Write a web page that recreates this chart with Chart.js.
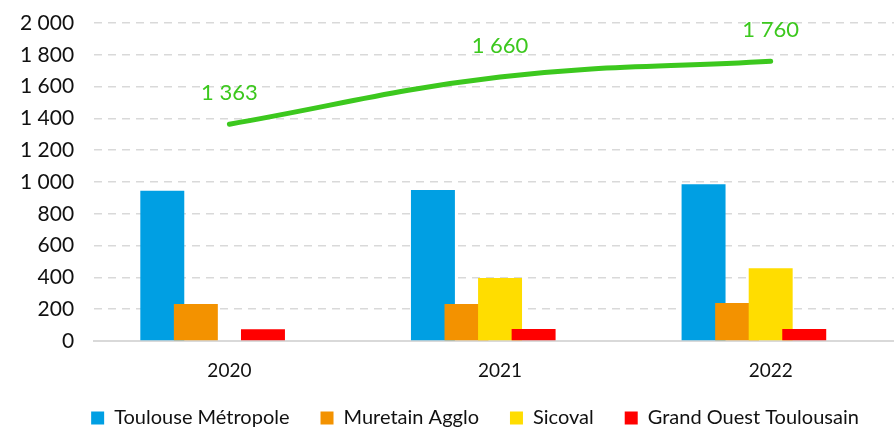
<!DOCTYPE html>
<html>
<head>
<meta charset="utf-8">
<script src="https://cdn.jsdelivr.net/npm/chart.js@4"></script>
<style>
  html, body { margin: 0; padding: 0; background: #fff; }
  #wrap { width: 894px; height: 429px; overflow: hidden; }
</style>
</head>
<body>
<div id="wrap"><canvas id="c" width="906" height="429"></canvas></div>
<script>
const years = ['2020', '2021', '2022'];
const toulouse = [945, 950, 986];
const muretain = [233, 233, 239];
const sicoval = [null, 396, 457];
const grandOuest = [74, 75, 76];
const total = [1363, 1660, 1760];
// empty 5th slot in each group (the original leaves room for it)
const emptySlot = [null, null, null];
const yTicks = [0, 200, 400, 600, 800, 1000, 1200, 1400, 1600, 1800, 2000];

// format 1 363 style
const fmt = v => String(v).replace(/\B(?=(\d{3})+(?!\d))/g, ' ');

// bars overlap a bit, later series must sit on top of earlier ones
const barLayering = {
  id: 'barLayering',
  beforeDatasetDraw(chart, args) {
    if (args.meta.type !== 'bar') return;
    if (args.index === 4) {
      for (let i = 0; i < 4; i++) chart.getDatasetMeta(i).controller.draw();
      return;
    }
    return false;
  }
};

// legend sits a bit right of centre in the original
const legendShift = {
  id: 'legendShift',
  afterLayout(chart) {
    chart.legend.left += 22;
    chart.legend.right += 22;
  }
};

const lineLabels = {
  id: 'lineLabels',
  afterDatasetsDraw(chart) {
    const ctx = chart.ctx;
    const meta = chart.getDatasetMeta(5);
    ctx.save();
    ctx.fillStyle = '#3CC81E';
    ctx.font = '22px Lato';
    ctx.textAlign = 'center';
    ctx.textBaseline = 'middle';
    meta.data.forEach((pt, i) => {
      ctx.fillText(fmt(total[i]), pt.x, pt.y - 31);
    });
    ctx.restore();
  }
};

new Chart(document.getElementById('c'), {
  type: 'bar',
  data: {
    labels: years,
    datasets: [
      { label: 'Toulouse Métropole', data: toulouse, backgroundColor: '#009FE3' },
      { label: 'Muretain Agglo', data: muretain, backgroundColor: '#F39200' },
      { label: 'Sicoval', data: sicoval, backgroundColor: '#FFDD00' },
      { label: 'Grand Ouest Toulousain', data: grandOuest, backgroundColor: '#FF0000' },
      { label: '', data: emptySlot, backgroundColor: 'transparent' },
      {
        type: 'line', label: 'Total', data: total,
        borderColor: '#3CC81E', borderWidth: 5, borderCapStyle: 'round',
        tension: 0.4, pointRadius: 0, fill: false, order: -1
      }
    ]
  },
  options: {
    responsive: false,
    animation: false,
    layout: { padding: { top: 0, right: 0, left: 0, bottom: -9 } },
    datasets: { bar: { categoryPercentage: 0.62, barPercentage: 1.31 } },
    scales: {
      x: {
        grid: { display: false, drawTicks: false },
        border: { color: '#D9D9D9', width: 2 },
        ticks: { color: '#111', font: { family: 'Lato', size: 19 }, padding: 18 },
        afterFit: axis => { axis.height = 36; }
      },
      y: {
        min: 0, max: 2000,
        afterBuildTicks: axis => { axis.ticks = yTicks.map(v => ({ value: v })); },
        afterFit: axis => { axis.paddingTop = 23; },
        grid: { color: '#D9D9D9', lineWidth: 1.5, drawTicks: false },
        border: { display: false, dash: [8, 6] },
        ticks: {
          color: '#111', font: { family: 'Lato', size: 21 }, padding: 20,
          callback: v => fmt(v)
        }
      }
    },
    plugins: {
      legend: {
        position: 'bottom',
        labels: {
          color: '#111', font: { family: 'Lato', size: 20 },
          boxWidth: 13, boxHeight: 13, padding: 31,
          filter: item => item.datasetIndex < 4
        }
      },
      tooltip: { enabled: false }
    }
  },
  plugins: [barLayering, legendShift, lineLabels]
});
</script>
</body>
</html>
